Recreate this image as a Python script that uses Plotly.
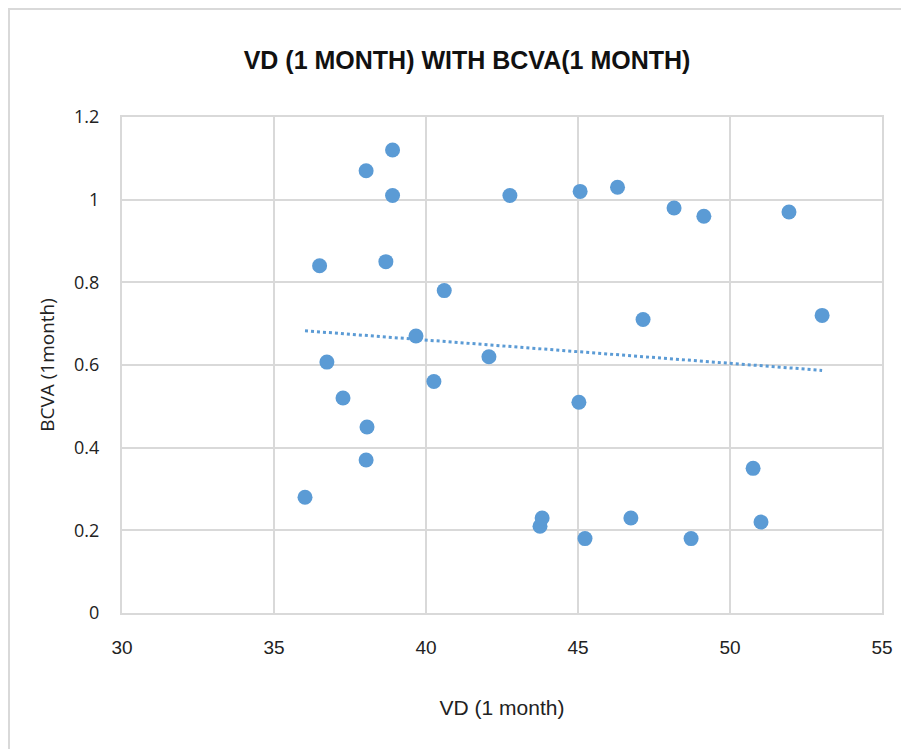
import numpy as np
import plotly.graph_objects as go

vd_1month = [36.02, 36.5, 36.74, 37.27, 38.06, 38.03, 38.03, 38.9, 38.9, 38.68,
             39.67, 40.26, 40.6, 42.07, 42.76, 43.75, 43.82, 45.03, 45.07, 45.23,
             46.3, 46.74, 47.14, 48.16, 49.14, 48.72, 50.76, 51.02, 51.94, 53.03]
bcva_1month = [0.28, 0.84, 0.607, 0.52, 0.45, 0.37, 1.07, 1.12, 1.01, 0.85,
               0.67, 0.56, 0.78, 0.62, 1.01, 0.21, 0.23, 0.51, 1.02, 0.18,
               1.03, 0.23, 0.71, 0.98, 0.96, 0.18, 0.35, 0.22, 0.97, 0.72]

x_ticks = [30, 35, 40, 45, 50, 55]
y_ticks = [0, 0.2, 0.4, 0.6, 0.8, 1, 1.2]
y_tick_text = ["0", "0.2", "0.4", "0.6", "0.8", "1", "1.2"]

BLUE = "#5B9BD5"
GRID = "#D9D9D9"

# linear trendline (least squares) over the data range
slope, intercept = np.polyfit(vd_1month, bcva_1month, 1)
tx = [min(vd_1month), max(vd_1month)]
ty = [slope * v + intercept for v in tx]

fig = go.Figure()
fig.add_trace(go.Scatter(x=tx, y=ty, mode="lines",
                         line=dict(color=BLUE, width=3, dash="dot"),
                         showlegend=False, hoverinfo="skip"))
fig.add_trace(go.Scatter(x=vd_1month, y=bcva_1month, mode="markers",
                         marker=dict(color=BLUE, size=15, line=dict(width=0)),
                         showlegend=False))

fig.update_layout(
    width=909, height=749,
    margin=dict(l=114, r=35, t=109, b=144),
    paper_bgcolor="white", plot_bgcolor="white",
    title=dict(text="<b>VD (1 MONTH) WITH BCVA(1 MONTH)</b>",
               x=0.505, xanchor="center", y=0.93, yanchor="middle",
               font=dict(family="Liberation Sans Narrow, Arial Narrow, Liberation Sans, sans-serif",
                         size=25, color="#111111")),
    xaxis=dict(range=[30, 55], tickvals=x_ticks, showgrid=True,
               gridcolor=GRID, gridwidth=2, zeroline=False,
               showline=True, linecolor=GRID, linewidth=2, mirror=True,
               ticks="", ticklabelstandoff=16,
               tickfont=dict(family="Liberation Sans Narrow, Arial Narrow, Liberation Sans, sans-serif",
                             size=19, color="#222222"),
               title=dict(text="VD (1 month)", standoff=44,
                          font=dict(family="Liberation Sans Narrow, Arial Narrow, Liberation Sans, sans-serif",
                                    size=21, color="#222222"))),
    yaxis=dict(range=[0, 1.2], tickvals=y_ticks, ticktext=y_tick_text, showgrid=True,
               gridcolor=GRID, gridwidth=2, zeroline=False,
               showline=True, linecolor=GRID, linewidth=2, mirror=True,
               ticks="", ticklabelstandoff=17,
               tickfont=dict(family="Open Sans, sans-serif", size=18, color="#222222"),
               title=dict(text="BCVA (1month)", standoff=14,
                          font=dict(family="Open Sans, sans-serif", size=19, color="#222222"))),
)

# outer chart frame
fig.add_shape(type="rect", xref="paper", yref="paper",
              x0=-0.1487, x1=1.3, y0=-0.6, y1=1.2177,
              line=dict(color=GRID, width=2), fillcolor="rgba(0,0,0,0)", layer="below")

fig.write_html("out.html")
